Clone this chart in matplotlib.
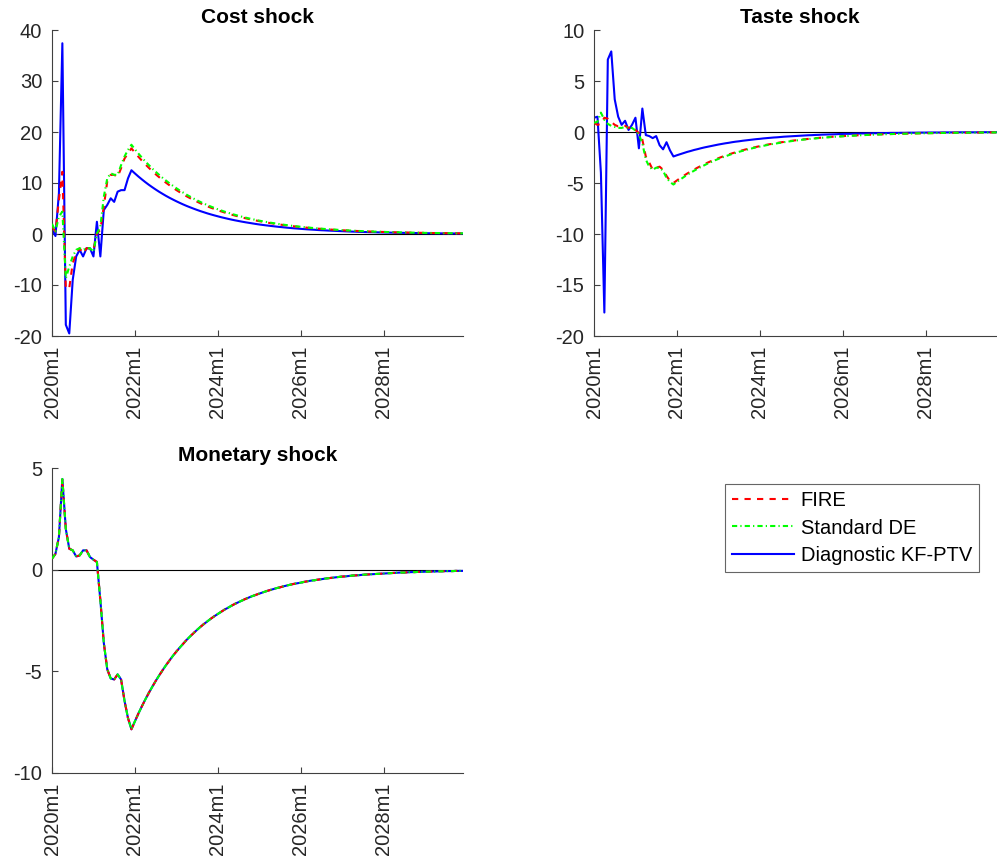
import numpy as np
import matplotlib
matplotlib.use('Agg')
from matplotlib import pyplot as plt

plt.rcParams['font.family'] = ['Liberation Sans', 'DejaVu Sans']
plt.rcParams['axes.unicode_minus'] = False

# monthly horizon 2020m1 .. 2029m12
months = ['%dm%d' % (y, m) for y in range(2020, 2030) for m in range(1, 13)]
tick_labels = ['2020m1', '2022m1', '2024m1', '2026m1', '2028m1']

# ---- Cost shock ----
cost_fire = [
    1.5, 0.5, 6.7, 12.2, -10.7, -10.6, -5.7, -3.8, -2.8, -3.8, -2.8, -2.8,
    -3.1, 0.1, 0.8, 5.4, 10.3, 11.6, 11.6, 11.2, 12.9, 14.8, 15.8, 16.8,
    15.96, 15.16, 14.40, 13.68, 13.00, 12.35, 11.73, 11.15, 10.59, 10.06, 9.56, 9.08,
    8.62, 8.19, 7.78, 7.39, 7.02, 6.67, 6.34, 6.02, 5.72, 5.43, 5.16, 4.91,
    4.66, 4.43, 4.21, 4.00, 3.80, 3.61, 3.43, 3.25, 3.09, 2.94, 2.79, 2.65,
    2.52, 2.39, 2.27, 2.16, 2.05, 1.95, 1.85, 1.76, 1.67, 1.59, 1.51, 1.43,
    1.36, 1.29, 1.23, 1.17, 1.11, 1.05, 1.00, 0.95, 0.90, 0.86, 0.81, 0.77,
    0.74, 0.70, 0.66, 0.63, 0.60, 0.57, 0.54, 0.51, 0.49, 0.46, 0.44, 0.42,
    0.40, 0.38, 0.36, 0.34, 0.32, 0.31, 0.29, 0.28, 0.26, 0.25, 0.24, 0.23,
    0.22, 0.20, 0.19, 0.18, 0.17, 0.17, 0.16, 0.15, 0.14, 0.14, 0.13, 0.12,
]
cost_de = [
    2.0, 0.5, 3.4, 4.4, -8.7, -6.4, -4.4, -3.1, -2.8, -3.1, -2.8, -2.8,
    -3.5, 0.1, 1.4, 7.3, 10.9, 11.9, 11.6, 11.6, 13.5, 15.2, 16.5, 17.5,
    16.63, 15.79, 15.00, 14.25, 13.54, 12.86, 12.22, 11.61, 11.03, 10.48, 9.95, 9.46,
    8.98, 8.53, 8.11, 7.70, 7.32, 6.95, 6.60, 6.27, 5.96, 5.66, 5.38, 5.11,
    4.85, 4.61, 4.38, 4.16, 3.95, 3.76, 3.57, 3.39, 3.22, 3.06, 2.91, 2.76,
    2.62, 2.49, 2.37, 2.25, 2.14, 2.03, 1.93, 1.83, 1.74, 1.65, 1.57, 1.49,
    1.42, 1.35, 1.28, 1.21, 1.16, 1.10, 1.04, 0.99, 0.94, 0.89, 0.85, 0.81,
    0.77, 0.73, 0.69, 0.66, 0.62, 0.59, 0.56, 0.54, 0.51, 0.48, 0.46, 0.44,
    0.41, 0.39, 0.37, 0.36, 0.34, 0.32, 0.30, 0.29, 0.27, 0.26, 0.25, 0.24,
    0.22, 0.21, 0.20, 0.19, 0.18, 0.17, 0.16, 0.16, 0.15, 0.14, 0.13, 0.13,
]
cost_diag = [
    0.9, -0.4, 8.0, 37.4, -17.8, -19.5, -9.0, -4.4, -3.1, -4.4, -2.8, -2.8,
    -4.4, 2.4, -4.4, 4.7, 5.7, 7.0, 6.3, 8.3, 8.6, 8.6, 10.9, 12.5,
    11.88, 11.28, 10.72, 10.18, 9.67, 9.19, 8.73, 8.29, 7.88, 7.48, 7.11, 6.76,
    6.42, 6.10, 5.79, 5.50, 5.23, 4.97, 4.72, 4.48, 4.26, 4.04, 3.84, 3.65,
    3.47, 3.29, 3.13, 2.97, 2.82, 2.68, 2.55, 2.42, 2.30, 2.19, 2.08, 1.97,
    1.87, 1.78, 1.69, 1.61, 1.53, 1.45, 1.38, 1.31, 1.24, 1.18, 1.12, 1.07,
    1.01, 0.96, 0.91, 0.87, 0.83, 0.78, 0.74, 0.71, 0.67, 0.64, 0.61, 0.58,
    0.55, 0.52, 0.49, 0.47, 0.45, 0.42, 0.40, 0.38, 0.36, 0.35, 0.33, 0.31,
    0.30, 0.28, 0.27, 0.25, 0.24, 0.23, 0.22, 0.21, 0.20, 0.19, 0.18, 0.17,
    0.16, 0.15, 0.14, 0.14, 0.13, 0.12, 0.12, 0.11, 0.11, 0.10, 0.10, 0.09,
]

# ---- Taste shock ----
taste_fire = [
    0.9, 0.7, 0.8, 1.4, 1.3, 1.0, 0.7, 0.55, 0.55, 0.6, 0.4, 0.55,
    0.2, -0.1, -0.75, -2.4, -3.0, -3.7, -3.5, -3.4, -3.7, -4.3, -4.8, -5.0,
    -4.75, -4.51, -4.29, -4.07, -3.87, -3.68, -3.49, -3.32, -3.15, -2.99, -2.84, -2.70,
    -2.57, -2.44, -2.32, -2.20, -2.09, -1.99, -1.89, -1.79, -1.70, -1.62, -1.54, -1.46,
    -1.39, -1.32, -1.25, -1.19, -1.13, -1.07, -1.02, -0.97, -0.92, -0.87, -0.83, -0.79,
    -0.75, -0.71, -0.68, -0.64, -0.61, -0.58, -0.55, -0.52, -0.50, -0.47, -0.45, -0.43,
    -0.41, -0.38, -0.37, -0.35, -0.33, -0.31, -0.30, -0.28, -0.27, -0.26, -0.24, -0.23,
    -0.22, -0.21, -0.20, -0.19, -0.18, -0.17, -0.16, -0.15, -0.15, -0.14, -0.13, -0.12,
    -0.12, -0.11, -0.11, -0.10, -0.10, -0.09, -0.09, -0.08, -0.08, -0.07, -0.07, -0.07,
    -0.06, -0.06, -0.06, -0.06, -0.05, -0.05, -0.05, -0.04, -0.04, -0.04, -0.04, -0.04,
]
taste_de = [
    0.9, 1.0, 1.9, 1.2, 0.8, 0.6, 0.5, 0.4, 0.4, 0.5, 0.4, 0.4,
    0.15, -0.25, -1.1, -2.7, -3.4, -3.7, -3.5, -3.5, -3.8, -4.5, -4.9, -5.15,
    -4.89, -4.65, -4.42, -4.19, -3.99, -3.79, -3.60, -3.42, -3.25, -3.08, -2.93, -2.78,
    -2.64, -2.51, -2.39, -2.27, -2.15, -2.05, -1.94, -1.85, -1.75, -1.67, -1.58, -1.50,
    -1.43, -1.36, -1.29, -1.22, -1.16, -1.11, -1.05, -1.00, -0.95, -0.90, -0.86, -0.81,
    -0.77, -0.73, -0.70, -0.66, -0.63, -0.60, -0.57, -0.54, -0.51, -0.49, -0.46, -0.44,
    -0.42, -0.40, -0.38, -0.36, -0.34, -0.32, -0.31, -0.29, -0.28, -0.26, -0.25, -0.24,
    -0.23, -0.21, -0.20, -0.19, -0.18, -0.17, -0.17, -0.16, -0.15, -0.14, -0.13, -0.13,
    -0.12, -0.12, -0.11, -0.10, -0.10, -0.09, -0.09, -0.08, -0.08, -0.08, -0.07, -0.07,
    -0.07, -0.06, -0.06, -0.06, -0.05, -0.05, -0.05, -0.05, -0.04, -0.04, -0.04, -0.04,
]
taste_diag = [
    1.4, 1.5, -4.0, -17.7, 7.1, 7.9, 3.2, 1.5, 0.7, 1.1, 0.2, 0.7,
    1.4, -1.6, 2.3, -0.3, -0.4, -0.6, -0.4, -1.3, -1.7, -1.0, -1.8, -2.4,
    -2.28, -2.17, -2.06, -1.95, -1.86, -1.76, -1.68, -1.59, -1.51, -1.44, -1.37, -1.30,
    -1.23, -1.17, -1.11, -1.06, -1.00, -0.95, -0.91, -0.86, -0.82, -0.78, -0.74, -0.70,
    -0.67, -0.63, -0.60, -0.57, -0.54, -0.52, -0.49, -0.46, -0.44, -0.42, -0.40, -0.38,
    -0.36, -0.34, -0.32, -0.31, -0.29, -0.28, -0.26, -0.25, -0.24, -0.23, -0.22, -0.20,
    -0.19, -0.18, -0.18, -0.17, -0.16, -0.15, -0.14, -0.14, -0.13, -0.12, -0.12, -0.11,
    -0.11, -0.10, -0.09, -0.09, -0.09, -0.08, -0.08, -0.07, -0.07, -0.07, -0.06, -0.06,
    -0.06, -0.05, -0.05, -0.05, -0.05, -0.04, -0.04, -0.04, -0.04, -0.04, -0.03, -0.03,
    -0.03, -0.03, -0.03, -0.03, -0.02, -0.02, -0.02, -0.02, -0.02, -0.02, -0.02, -0.02,
]

# ---- Monetary shock (the three models coincide) ----
mon_fire = [
    0.54, 0.78, 1.6, 4.46, 2.0, 1.03, 0.95, 0.65, 0.7, 0.95, 0.95, 0.62,
    0.49, 0.38, -1.5, -3.6, -4.9, -5.35, -5.4, -5.15, -5.4, -6.45, -7.3, -7.85,
    -7.46, -7.08, -6.73, -6.39, -6.07, -5.77, -5.48, -5.21, -4.95, -4.70, -4.47, -4.24,
    -4.03, -3.83, -3.64, -3.45, -3.28, -3.12, -2.96, -2.81, -2.67, -2.54, -2.41, -2.29,
    -2.18, -2.07, -1.96, -1.87, -1.77, -1.68, -1.60, -1.52, -1.44, -1.37, -1.30, -1.24,
    -1.18, -1.12, -1.06, -1.01, -0.96, -0.91, -0.87, -0.82, -0.78, -0.74, -0.70, -0.67,
    -0.64, -0.60, -0.57, -0.54, -0.52, -0.49, -0.47, -0.44, -0.42, -0.40, -0.38, -0.36,
    -0.34, -0.33, -0.31, -0.29, -0.28, -0.27, -0.25, -0.24, -0.23, -0.22, -0.21, -0.20,
    -0.19, -0.18, -0.17, -0.16, -0.15, -0.14, -0.14, -0.13, -0.12, -0.12, -0.11, -0.11,
    -0.10, -0.10, -0.09, -0.09, -0.08, -0.08, -0.07, -0.07, -0.07, -0.06, -0.06, -0.06,
]
mon_de = list(mon_fire)
mon_diag = list(mon_fire)

model_names = ['FIRE', 'Standard DE', 'Diagnostic KF-PTV']
AX_COL = '#404040'


def draw_panel(ax, title, fire, de, diag, yticks):
    x = np.arange(len(months))
    ax.axhline(0, color='black', lw=0.8, zorder=1)
    l3, = ax.plot(x, diag, color=(0, 0, 1), lw=1.5, ls='-', zorder=2)
    l1, = ax.plot(x, fire, color=(1, 0, 0), lw=1.5, ls=(0, (3, 3)), zorder=3)
    l2, = ax.plot(x, de, color=(0, 1, 0), lw=1.5, ls=(0, (2.5, 1.5, 0.6, 1.5)), zorder=4)
    ax.set_xlim(0, len(months) - 1)
    ax.set_ylim(yticks[0], yticks[-1])
    ax.set_yticks(yticks)
    ax.set_xticks([months.index(t) for t in tick_labels])
    ax.set_xticklabels(tick_labels, rotation=90)
    ax.set_title(title, fontsize=15, fontweight='bold', pad=5)
    for s in ['top', 'right']:
        ax.spines[s].set_visible(False)
    for s in ['left', 'bottom']:
        ax.spines[s].set_color(AX_COL)
        ax.spines[s].set_linewidth(0.8)
    ax.tick_params(direction='in', length=4, width=0.8, color=AX_COL,
                   labelcolor='#262626', labelsize=14.5, pad=7)
    return l1, l2, l3


fig = plt.figure(figsize=(9.97, 8.65), dpi=100)
W, H = 997.0, 865.0
ax1 = fig.add_axes([52 / W, 1 - 336 / H, 411 / W, 306 / H])
ax2 = fig.add_axes([594 / W, 1 - 336 / H, 411 / W, 306 / H])
ax3 = fig.add_axes([52 / W, 1 - 773 / H, 411 / W, 305 / H])

draw_panel(ax1, 'Cost shock', cost_fire, cost_de, cost_diag, [-20, -10, 0, 10, 20, 30, 40])
handles = draw_panel(ax2, 'Taste shock', taste_fire, taste_de, taste_diag, [-20, -15, -10, -5, 0, 5, 10])
draw_panel(ax3, 'Monetary shock', mon_fire, mon_de, mon_diag, [-10, -5, 0, 5])

leg = fig.legend(handles, model_names, loc='upper left',
                 bbox_to_anchor=(725 / W, 1 - 484 / H), fontsize=14.5,
                 frameon=True, fancybox=False, handlelength=3.1,
                 handletextpad=0.3, labelspacing=0.42, borderpad=0.35,
                 borderaxespad=0)
leg.get_frame().set_edgecolor('#404040')
leg.get_frame().set_linewidth(0.8)

fig.savefig('out.png', dpi=100)
